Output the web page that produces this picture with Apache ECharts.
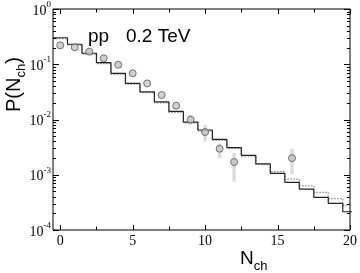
<!DOCTYPE html>
<html>
<head>
<meta charset="utf-8">
<script src="https://cdn.jsdelivr.net/npm/echarts@6/dist/echarts.min.js"></script>
<style>html,body{margin:0;padding:0;background:#fff}#c{width:360px;height:273px}</style>
</head>
<body>
<div id="c"></div>
<script>
// ---- data ----
const bins = [0,1,2,3,4,5,6,7,8,9,10,11,12,13,14,15,16,17,18,19,20];
const solidHist = [0.302,0.230,0.158,0.107,0.0686,0.0452,0.0317,0.0208,0.0140,0.0090,0.00646,0.00438,0.00311,0.00225,0.00157,0.00106,0.00073,0.00055,0.00039,0.000304,0.000214];
const dottedHist = [0.290,0.221,0.152,0.103,0.0660,0.0435,0.0305,0.0200,0.0134,0.0087,0.0062,0.0042,0.0030,0.00217,0.00155,0.00114,0.00083,0.00063,0.00048,0.00037,0.000283];
const dataN = [0,1,2,3,4,5,6,7,8,9,10,11,12,16];
const dataP = [0.22,0.203,0.169,0.128,0.098,0.0686,0.045,0.0277,0.0178,0.0099,0.00594,0.00296,0.0017,0.0020];
const errN = [9,10,11,12,16];
const errLow = [0.0080,0.0040,0.0020,0.00075,0.00102];
const errHigh = [0.0121,0.0080,0.0037,0.00248,0.00292];
const xTickValues = [0,2.5,5,7.5,10,12.5,15,17.5,20];
const xLabelValues = [0,5,10,15,20];
const yMajorTicks = [1e-4,1e-3,1e-2,1e-1,1];
const yMinorTicks = [];
[1e-4,1e-3,1e-2,1e-1].forEach(d => { for (let k = 2; k <= 9; k++) yMinorTicks.push(+(d*k).toPrecision(3)); });

function stepLine(vals) {
  const pts = [];
  bins.forEach((n, i) => { pts.push([n - 0.5, vals[i]]); pts.push([n + 0.5, vals[i]]); });
  return pts;
}

const chart = echarts.init(document.getElementById('c'), null, {renderer: 'canvas'});
const serif = '"Liberation Serif","DejaVu Serif",serif';
const sans = '"Liberation Sans",Arial,sans-serif';

const option = {
  animation: false,
  grid: {left: 53, right: 8, top: 9, bottom: 43, show: true, borderColor: '#000', borderWidth: 1, backgroundColor: 'transparent'},
  xAxis: {
    type: 'value', min: -0.5, max: 20, interval: 0.5,
    axisLine: {show: false}, axisTick: {show: false}, splitLine: {show: false},
    axisLabel: {
      margin: 4, fontFamily: serif, fontSize: 14, color: '#000',
      formatter: v => (xLabelValues.some(t => Math.abs(t - v) < 1e-9) ? String(Math.round(v)) : '')
    }
  },
  yAxis: {
    type: 'log', logBase: 10, min: 1e-4, max: 1,
    axisLine: {show: false}, axisTick: {show: false}, splitLine: {show: false},
    axisLabel: {
      margin: 2, color: '#000',
      formatter: v => '{b|10}{s|' + Math.round(Math.log10(v)) + '}',
      rich: {
        b: {fontFamily: serif, fontSize: 14, color: '#000', verticalAlign: 'bottom', lineHeight: 18},
        s: {fontFamily: serif, fontSize: 9, color: '#000', verticalAlign: 'top', lineHeight: 18}
      }
    }
  },
  graphic: [
    {type: 'text', left: 88, top: 27, style: {text: 'pp', font: '19px ' + sans, fill: '#000'}},
    {type: 'text', left: 126, top: 27, style: {text: '0.2 TeV', font: '19px ' + sans, fill: '#000'}},
    {type: 'text', x: 4, y: 112, rotation: Math.PI / 2,
      style: {text: '{a|P(N}{b|ch}{a|)}', rich: {
        a: {fontFamily: sans, fontSize: 20, fill: '#000', verticalAlign: 'top', lineHeight: 24},
        b: {fontFamily: sans, fontSize: 13, fill: '#000', verticalAlign: 'bottom', lineHeight: 24}
      }}},
    {type: 'text', left: 240, top: 249,
      style: {text: '{a|N}{b|ch}', rich: {
        a: {fontFamily: sans, fontSize: 19, fill: '#000', verticalAlign: 'top', lineHeight: 24},
        b: {fontFamily: sans, fontSize: 13, fill: '#000', verticalAlign: 'bottom', lineHeight: 24}
      }}}
  ],
  series: [
    {
      type: 'custom', name: 'err', z: 2,
      data: errN.map((n, i) => [n, errLow[i], errHigh[i]]),
      encode: {x: 0, y: [1, 2]},
      renderItem: (params, api) => {
        const a = api.coord([api.value(0), api.value(1)]);
        const b = api.coord([api.value(0), api.value(2)]);
        return {type: 'line', shape: {x1: a[0], y1: a[1], x2: b[0], y2: b[1]}, style: {stroke: '#dcdcdc', lineWidth: 3.5}};
      }
    },
    {
      type: 'line', name: 'dotted', data: stepLine(dottedHist), showSymbol: false, symbol: 'none', z: 3,
      lineStyle: {color: '#8a8a8a', width: 1.2, type: [1.5, 1.5]}
    },
    {
      type: 'line', name: 'solid', data: stepLine(solidHist), showSymbol: false, symbol: 'none', z: 4,
      lineStyle: {color: '#222', width: 1.2}
    },
    {
      type: 'scatter', name: 'data', z: 5,
      data: dataN.map((n, i) => [n, dataP[i]]),
      symbol: 'circle', symbolSize: 7,
      itemStyle: {color: '#c4c4c4', borderColor: '#555', borderWidth: 1}
    },
    {
      type: 'custom', name: 'xticks', z: 6, silent: true,
      data: xTickValues.map(t => [t, 1]),
      renderItem: (params, api) => {
        const cs = params.coordSys;
        const v = api.value(0);
        const x = Math.round(api.coord([v, 1])[0]) + 0.5;
        const len = (Math.abs(v % 5) < 1e-9) ? 5 : 3.5;
        const yb = cs.y + cs.height, yt = cs.y;
        return {type: 'group', children: [
          {type: 'line', shape: {x1: x, y1: yb, x2: x, y2: yb - len}, style: {stroke: '#000', lineWidth: 1}},
          {type: 'line', shape: {x1: x, y1: yt, x2: x, y2: yt + len}, style: {stroke: '#000', lineWidth: 1}}
        ]};
      }
    },
    {
      type: 'custom', name: 'yticks', z: 6, silent: true,
      data: yMajorTicks.map(t => [0, t, 6]).concat(yMinorTicks.map(t => [0, t, 3])),
      renderItem: (params, api) => {
        const cs = params.coordSys;
        const y = Math.round(api.coord([0, api.value(1)])[1]) + 0.5;
        const len = api.value(2);
        const xl = cs.x, xr = cs.x + cs.width;
        return {type: 'group', children: [
          {type: 'line', shape: {x1: xl, y1: y, x2: xl + len, y2: y}, style: {stroke: '#000', lineWidth: 1}},
          {type: 'line', shape: {x1: xr, y1: y, x2: xr - len, y2: y}, style: {stroke: '#000', lineWidth: 1}}
        ]};
      }
    }
  ]
};
chart.setOption(option);
</script>
</body>
</html>
